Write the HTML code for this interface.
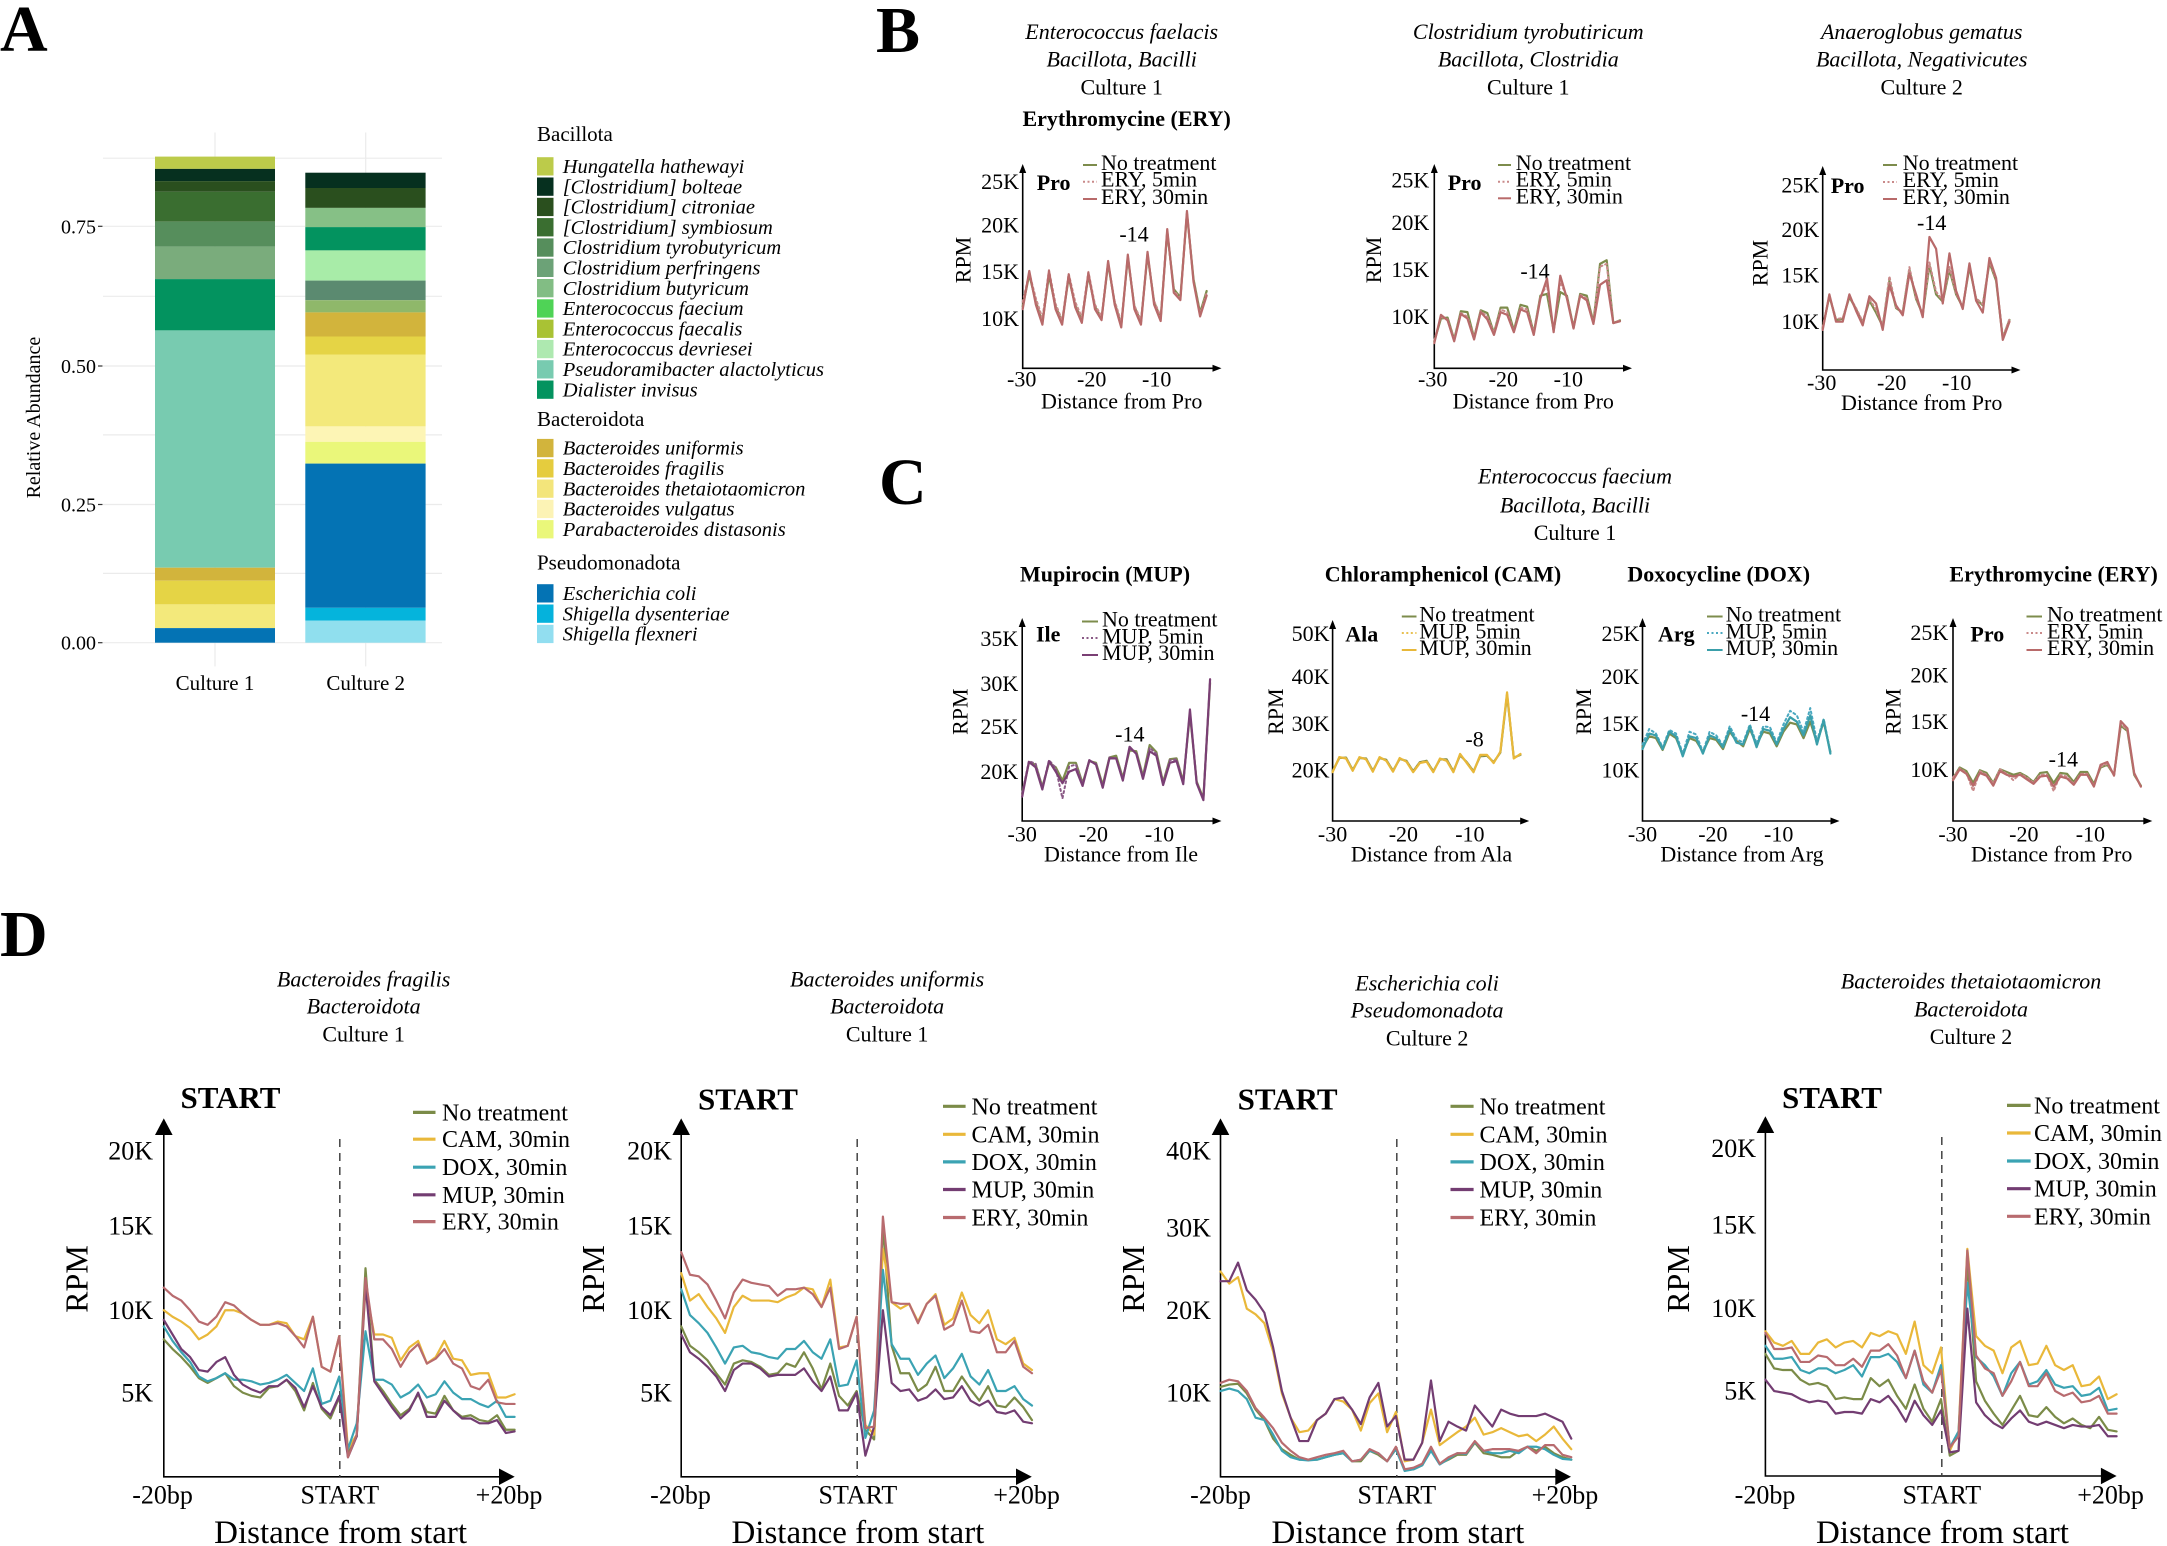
<!DOCTYPE html>
<html><head><meta charset="utf-8"><style>
html,body{margin:0;padding:0;background:#fff}
svg{display:block}
text{font-family:"Liberation Serif","Times New Roman",serif;fill:#000}
.i{font-style:italic}
.b{font-weight:bold}
.s{fill:none;vector-effect:non-scaling-stroke;stroke-linejoin:round;stroke-linecap:round}
.ax{stroke:#000;stroke-width:1.6;fill:none}
.g{stroke:#ebebeb;stroke-width:1.2}
</style></head><body>
<svg width="2167" height="1546" viewBox="0 0 2167 1546" xmlns="http://www.w3.org/2000/svg">
<rect width="2167" height="1546" fill="#fff"/>

<!-- Panel letters -->
<text x="0" y="51" class="b" font-size="66">A</text>
<text x="876" y="52" class="b" font-size="66">B</text>
<text x="879" y="504" class="b" font-size="66">C</text>
<text x="0" y="956" class="b" font-size="66">D</text>

<!-- ================= PANEL A ================= -->
<g>
<line class="g" x1="103" x2="442" y1="158.2" y2="158.2"/>
<line class="g" x1="103" x2="442" y1="226.3" y2="226.3"/>
<line class="g" x1="103" x2="442" y1="296.3" y2="296.3"/>
<line class="g" x1="103" x2="442" y1="366" y2="366"/>
<line class="g" x1="103" x2="442" y1="434.9" y2="434.9"/>
<line class="g" x1="103" x2="442" y1="504.5" y2="504.5"/>
<line class="g" x1="103" x2="442" y1="573.4" y2="573.4"/>
<line class="g" x1="103" x2="442" y1="642.7" y2="642.7"/>
<line class="g" x1="215" x2="215" y1="132.5" y2="666.4"/>
<line class="g" x1="365.7" x2="365.7" y1="132.5" y2="666.4"/>
</g>
<g fill="#4d4d4d" font-size="20">
<text x="96" y="233.3" text-anchor="end" fill="#4d4d4d">0.75</text>
<text x="96" y="373" text-anchor="end" fill="#4d4d4d">0.50</text>
<text x="96" y="511.5" text-anchor="end" fill="#4d4d4d">0.25</text>
<text x="96" y="649.7" text-anchor="end" fill="#4d4d4d">0.00</text>
</g>
<g stroke="#333" stroke-width="1.2">
<line x1="98" x2="102.5" y1="226.3" y2="226.3"/>
<line x1="98" x2="102.5" y1="366" y2="366"/>
<line x1="98" x2="102.5" y1="504.5" y2="504.5"/>
<line x1="98" x2="102.5" y1="642.7" y2="642.7"/>
</g>
<text transform="translate(33,417.6) rotate(-90)" text-anchor="middle" dy="0.35em" font-size="20" fill="#222">Relative Abundance</text>
<text x="215" y="690" text-anchor="middle" font-size="21" fill="#4d4d4d">Culture 1</text>
<text x="365.7" y="690" text-anchor="middle" font-size="21" fill="#4d4d4d">Culture 2</text>

<!-- Bar 1 -->
<g>
<rect x="155" width="120" y="156.6" height="12.3" fill="#bccb4a"/>
<rect x="155" width="120" y="168.9" height="12.2" fill="#06301f"/>
<rect x="155" width="120" y="181.1" height="10.7" fill="#2a4f1e"/>
<rect x="155" width="120" y="191.8" height="29.9" fill="#3a6e30"/>
<rect x="155" width="120" y="221.7" height="24.9" fill="#568e5c"/>
<rect x="155" width="120" y="246.6" height="32.5" fill="#7aac7c"/>
<rect x="155" width="120" y="279.1" height="51.3" fill="#03935f"/>
<rect x="155" width="120" y="330.4" height="237.3" fill="#78cbb0"/>
<rect x="155" width="120" y="567.7" height="13" fill="#d2b43c"/>
<rect x="155" width="120" y="580.7" height="23.7" fill="#e5d445"/>
<rect x="155" width="120" y="604.4" height="23.7" fill="#f3e97b"/>
<rect x="155" width="120" y="628.1" height="14.6" fill="#0473b4"/>
</g>
<!-- Bar 2 -->
<g>
<rect x="305.3" width="120.3" y="172.7" height="15.3" fill="#06301f"/>
<rect x="305.3" width="120.3" y="188" height="19.9" fill="#2a4f1e"/>
<rect x="305.3" width="120.3" y="207.9" height="19.2" fill="#86c086"/>
<rect x="305.3" width="120.3" y="227.1" height="23.3" fill="#03935f"/>
<rect x="305.3" width="120.3" y="250.4" height="30.2" fill="#a8eca8"/>
<rect x="305.3" width="120.3" y="280.6" height="19.6" fill="#5b8a70"/>
<rect x="305.3" width="120.3" y="300.2" height="12.2" fill="#8fb86a"/>
<rect x="305.3" width="120.3" y="312.4" height="24.1" fill="#d2b43c"/>
<rect x="305.3" width="120.3" y="336.5" height="18" fill="#e5d445"/>
<rect x="305.3" width="120.3" y="354.5" height="71.9" fill="#f3e97b"/>
<rect x="305.3" width="120.3" y="426.4" height="15.4" fill="#fdf5b5"/>
<rect x="305.3" width="120.3" y="441.8" height="21.8" fill="#eaf77a"/>
<rect x="305.3" width="120.3" y="463.6" height="144.2" fill="#0473b4"/>
<rect x="305.3" width="120.3" y="607.8" height="12.7" fill="#05b4dc"/>
<rect x="305.3" width="120.3" y="620.5" height="22.2" fill="#90dfee"/>
</g>

<!-- Legend A -->
<text x="537" y="141" font-size="21">Bacillota</text>
<g>
<rect x="537" y="157.2" width="16.5" height="18.3" fill="#bccb4a"/>
<rect x="537" y="177.5" width="16.5" height="18.3" fill="#06301f"/>
<rect x="537" y="197.8" width="16.5" height="18.3" fill="#2a4f1e"/>
<rect x="537" y="218.1" width="16.5" height="18.3" fill="#3a6e30"/>
<rect x="537" y="238.4" width="16.5" height="18.3" fill="#568e5c"/>
<rect x="537" y="258.7" width="16.5" height="18.3" fill="#6ca277"/>
<rect x="537" y="279" width="16.5" height="18.3" fill="#82bd84"/>
<rect x="537" y="299.3" width="16.5" height="18.3" fill="#4fd356"/>
<rect x="537" y="319.6" width="16.5" height="18.3" fill="#a9c234"/>
<rect x="537" y="339.9" width="16.5" height="18.3" fill="#aee9b0"/>
<rect x="537" y="360.2" width="16.5" height="18.3" fill="#78cbb0"/>
<rect x="537" y="380.5" width="16.5" height="18.3" fill="#03935f"/>
</g>
<g class="i" font-size="20.5">
<text x="562.7" y="173" class="i">Hungatella hathewayi</text>
<text x="562.7" y="193.3" class="i">[Clostridium] bolteae</text>
<text x="562.7" y="213.6" class="i">[Clostridium] citroniae</text>
<text x="562.7" y="233.9" class="i">[Clostridium] symbiosum</text>
<text x="562.7" y="254.2" class="i">Clostridium tyrobutyricum</text>
<text x="562.7" y="274.5" class="i">Clostridium perfringens</text>
<text x="562.7" y="294.8" class="i">Clostridium butyricum</text>
<text x="562.7" y="315.1" class="i">Enterococcus faecium</text>
<text x="562.7" y="335.4" class="i">Enterococcus faecalis</text>
<text x="562.7" y="355.7" class="i">Enterococcus devriesei</text>
<text x="562.7" y="376" class="i">Pseudoramibacter alactolyticus</text>
<text x="562.7" y="396.3" class="i">Dialister invisus</text>
</g>
<text x="537" y="426.1" font-size="21">Bacteroidota</text>
<g>
<rect x="537" y="438.9" width="16.5" height="18.3" fill="#d2b43c"/>
<rect x="537" y="459.2" width="16.5" height="18.3" fill="#e5cc3e"/>
<rect x="537" y="479.5" width="16.5" height="18.3" fill="#f3e57b"/>
<rect x="537" y="499.8" width="16.5" height="18.3" fill="#fcf3b5"/>
<rect x="537" y="520.1" width="16.5" height="18.3" fill="#eaf77a"/>
</g>
<g font-size="20.5">
<text x="562.7" y="454.7" class="i">Bacteroides uniformis</text>
<text x="562.7" y="475" class="i">Bacteroides fragilis</text>
<text x="562.7" y="495.3" class="i">Bacteroides thetaiotaomicron</text>
<text x="562.7" y="515.6" class="i">Bacteroides vulgatus</text>
<text x="562.7" y="535.9" class="i">Parabacteroides distasonis</text>
</g>
<text x="537" y="569.7" font-size="21">Pseudomonadota</text>
<g>
<rect x="537" y="584.2" width="16.5" height="18.3" fill="#0473b4"/>
<rect x="537" y="604.5" width="16.5" height="18.3" fill="#05b2dc"/>
<rect x="537" y="624.8" width="16.5" height="18.3" fill="#92def0"/>
</g>
<g font-size="20.5">
<text x="562.7" y="600" class="i">Escherichia coli</text>
<text x="562.7" y="620.3" class="i">Shigella dysenteriae</text>
<text x="562.7" y="640.6" class="i">Shigella flexneri</text>
</g>

<!-- ================= PANEL B ================= -->
<g font-size="22">
<text x="1121.7" y="39" text-anchor="middle" class="i">Enterococcus faelacis</text>
<text x="1121.7" y="66.7" text-anchor="middle" class="i">Bacillota, Bacilli</text>
<text x="1121.7" y="94.3" text-anchor="middle">Culture 1</text>
<text x="1126.7" y="126" text-anchor="middle" class="b">Erythromycine (ERY)</text>
<text x="1528.3" y="39" text-anchor="middle" class="i">Clostridium tyrobutiricum</text>
<text x="1528.3" y="66.7" text-anchor="middle" class="i">Bacillota, Clostridia</text>
<text x="1528.3" y="94.3" text-anchor="middle">Culture 1</text>
<text x="1921.7" y="39" text-anchor="middle" class="i">Anaeroglobus gematus</text>
<text x="1921.7" y="66.7" text-anchor="middle" class="i">Bacillota, Negativicutes</text>
<text x="1921.7" y="94.3" text-anchor="middle">Culture 2</text>
</g>

<!-- B1 -->
<g font-size="22">
<polyline class="ax" points="1022.7,171 1022.7,368.3 1214,368.3"/>
<polygon points="1022.7,164 1019.2,173 1026.2,173"/>
<polygon points="1221.5,368.3 1212.5,364.8 1212.5,371.8"/>
<text x="1019" y="189.2" text-anchor="end">25K</text>
<text x="1019" y="232.5" text-anchor="end">20K</text>
<text x="1019" y="279.2" text-anchor="end">15K</text>
<text x="1019" y="325.8" text-anchor="end">10K</text>
<text x="1021.7" y="386.7" text-anchor="middle">-30</text>
<text x="1091.7" y="386.7" text-anchor="middle">-20</text>
<text x="1156.7" y="386.7" text-anchor="middle">-10</text>
<text x="1121.7" y="408.3" text-anchor="middle">Distance from Pro</text>
<text transform="translate(963,260) rotate(-90)" text-anchor="middle" dy="0.35em">RPM</text>
<text x="1036.7" y="190" class="b">Pro</text>
<text x="1134" y="241.7" text-anchor="middle">-14</text>
<line x1="1083" x2="1097" y1="165" y2="165" stroke="#7d8c4c" stroke-width="2"/>
<line x1="1083" x2="1097" y1="181.7" y2="181.7" stroke="#c98a8a" stroke-width="2" stroke-dasharray="2,2.5"/>
<line x1="1083" x2="1097" y1="199" y2="199" stroke="#b86a6a" stroke-width="2"/>
<text x="1101" y="170">No treatment</text>
<text x="1101" y="186.7">ERY, 5min</text>
<text x="1101" y="204">ERY, 30min</text>
</g>
<g transform="translate(1022.7,409.3) scale(6.57,-9.1)">
<polyline class="s" stroke="#7d8c4c" stroke-width="2.2" points="0,11.3 1,14.8 2,11.8 3,9.6 4,14.7 5,11.3 6,9.6 7,14.5 8,11.4 9,9.8 10,14.7 11,11.3 12,10 13,16 14,11.7 15,9.3 16,16.7 17,11.3 18,9.6 19,17 20,11.8 21,10 22,19.5 23,13.2 24,12.3 25,21.5 26,14.3 27,10.6 28,13"/>
<polyline class="s" stroke="#c98a8a" stroke-width="2" stroke-dasharray="2,3" points="0,11.8 1,15 2,12.2 3,10 4,15.3 5,11.6 6,9.8 7,14.9 8,11.8 9,10.1 10,15.1 11,11.5 12,10.2 13,16.1 14,11.9 15,9.6 16,16.8 17,11.4 18,9.8 19,17.1 20,11.9 21,10.2 22,19.6 23,13 24,12.2 25,21.6 26,14.1 27,10.4 28,12.8"/>
<polyline class="s" stroke="#b86a6a" stroke-width="2.2" points="0,11 1,15.2 2,11.5 3,9.3 4,15.2 5,11 6,9.3 7,14.8 8,11.2 9,9.5 10,15 11,11 12,9.8 13,16.3 14,11.5 15,9 16,17 17,11 18,9.3 19,17.3 20,11.5 21,9.7 22,19.8 23,12.8 24,12 25,21.8 26,14 27,10.2 28,12.5"/>
</g>

<!-- B2 -->
<g font-size="22">
<polyline class="ax" points="1434.3,171 1434.3,368.3 1625,368.3"/>
<polygon points="1434.3,164 1430.8,173 1437.8,173"/>
<polygon points="1632,368.3 1623,364.8 1623,371.8"/>
<text x="1429.3" y="187.5" text-anchor="end">25K</text>
<text x="1429.3" y="230.2" text-anchor="end">20K</text>
<text x="1429.3" y="276.8" text-anchor="end">15K</text>
<text x="1429.3" y="324.2" text-anchor="end">10K</text>
<text x="1432.7" y="386.7" text-anchor="middle">-30</text>
<text x="1503.3" y="386.7" text-anchor="middle">-20</text>
<text x="1568.3" y="386.7" text-anchor="middle">-10</text>
<text x="1533.3" y="408.3" text-anchor="middle">Distance from Pro</text>
<text transform="translate(1373.3,260) rotate(-90)" text-anchor="middle" dy="0.35em">RPM</text>
<text x="1447.7" y="190" class="b">Pro</text>
<text x="1535" y="278.3" text-anchor="middle">-14</text>
<line x1="1498" x2="1511" y1="165" y2="165" stroke="#7d8c4c" stroke-width="2"/>
<line x1="1498" x2="1511" y1="181.7" y2="181.7" stroke="#c98a8a" stroke-width="2" stroke-dasharray="2,2.5"/>
<line x1="1498" x2="1511" y1="198.3" y2="198.3" stroke="#b86a6a" stroke-width="2"/>
<text x="1515.7" y="170">No treatment</text>
<text x="1515.7" y="186.7">ERY, 5min</text>
<text x="1515.7" y="203.3">ERY, 30min</text>
</g>
<g transform="translate(1434.3,407.8) scale(6.63,-9.11)">
<polyline class="s" stroke="#7d8c4c" stroke-width="2.2" points="0,7.3 1,9.8 2,9.9 3,7.5 4,10.6 5,10.5 6,7.7 7,10.7 8,10.4 9,8.2 10,11 11,11 12,8.5 13,11.3 14,11.1 15,8.2 16,12.3 17,12.5 18,8.5 19,12.7 20,12.3 21,8.8 22,12.5 23,12.3 24,9.4 25,15.8 26,16.2 27,9.3 28,9.6"/>
<polyline class="s" stroke="#c98a8a" stroke-width="2" stroke-dasharray="2,3" points="0,7.4 1,10 2,9.7 3,7.5 4,10.4 5,10 6,7.7 7,10.6 8,10 9,8.2 10,10.8 11,10.5 12,8.4 13,11 14,10.8 15,8.2 16,12.2 17,13.5 18,8.4 19,13.8 20,12.2 21,8.8 22,12.4 23,12 24,9.3 25,15.5 26,15.8 27,9.3 28,9.6"/>
<polyline class="s" stroke="#b86a6a" stroke-width="2.2" points="0,7.1 1,10.2 2,9.6 3,7.3 4,10.3 5,9.8 6,7.5 7,10.5 8,9.7 9,8 10,10.5 11,10.2 12,8.3 13,10.8 14,10.5 15,8 16,12 17,14.2 18,8.3 19,14.5 20,12 21,8.7 22,12.3 23,11.8 24,9.2 25,13.5 26,14 27,9.3 28,9.5"/>
</g>

<!-- B3 -->
<g font-size="22">
<polyline class="ax" points="1822.7,173 1822.7,370 2013,370"/>
<polygon points="1822.7,166 1819.2,175 1826.2,175"/>
<polygon points="2020.5,370 2011.5,366.5 2011.5,373.5"/>
<text x="1819.3" y="192.5" text-anchor="end">25K</text>
<text x="1819.3" y="236.8" text-anchor="end">20K</text>
<text x="1819.3" y="282.5" text-anchor="end">15K</text>
<text x="1819.3" y="329.2" text-anchor="end">10K</text>
<text x="1821.7" y="390" text-anchor="middle">-30</text>
<text x="1891.7" y="390" text-anchor="middle">-20</text>
<text x="1956.7" y="390" text-anchor="middle">-10</text>
<text x="1921.7" y="410" text-anchor="middle">Distance from Pro</text>
<text transform="translate(1760,263) rotate(-90)" text-anchor="middle" dy="0.35em">RPM</text>
<text x="1830.7" y="193" class="b">Pro</text>
<text x="1931.7" y="230" text-anchor="middle">-14</text>
<line x1="1883" x2="1897" y1="165" y2="165" stroke="#7d8c4c" stroke-width="2"/>
<line x1="1883" x2="1897" y1="182" y2="182" stroke="#c98a8a" stroke-width="2" stroke-dasharray="2,2.5"/>
<line x1="1883" x2="1897" y1="199" y2="199" stroke="#b86a6a" stroke-width="2"/>
<text x="1902.7" y="170">No treatment</text>
<text x="1902.7" y="187">ERY, 5min</text>
<text x="1902.7" y="204">ERY, 30min</text>
</g>
<g transform="translate(1822.7,412.8) scale(6.67,-9.11)">
<polyline class="s" stroke="#7d8c4c" stroke-width="2.2" points="0,9.3 1,12.8 2,10.2 3,10.3 4,12.7 5,11.4 6,9.9 7,12.3 8,11 9,9.5 10,14.5 11,11.5 12,11 13,15.7 14,12.5 15,10.8 16,16.2 17,13 18,12.2 19,15.7 20,13 21,11.6 22,16 23,12.5 24,11.8 25,16.5 26,14.5 27,8.2 28,10.2"/>
<polyline class="s" stroke="#c98a8a" stroke-width="2" stroke-dasharray="2,3" points="0,9.4 1,12.9 2,10.3 3,10.4 4,12.8 5,11.5 6,10 7,12.5 8,11.3 9,9.6 10,15 11,11.6 12,11 13,16 14,12.6 15,10.9 16,16.5 17,13.3 18,12.3 19,16 20,13.1 21,11.7 22,16.2 23,12.6 24,11.9 25,16.7 26,14.6 27,8.3 28,10.3"/>
<polyline class="s" stroke="#b86a6a" stroke-width="2.2" points="0,9.1 1,13 2,10 3,10 4,13 5,11.2 6,9.6 7,12.8 8,12 9,9.1 10,14 11,11.8 12,10.7 13,15.3 14,13 15,10.5 16,19.3 17,18 18,12 19,17.5 20,13.4 21,11.4 22,16.4 23,12.3 24,11 25,17 26,14.8 27,8 28,10"/>
</g>

<!-- ================= PANEL C ================= -->
<g font-size="22">
<text x="1575" y="483.3" text-anchor="middle" class="i">Enterococcus faecium</text>
<text x="1575" y="512.7" text-anchor="middle" class="i">Bacillota, Bacilli</text>
<text x="1575" y="540" text-anchor="middle">Culture 1</text>
<text x="1105" y="581.7" text-anchor="middle" class="b">Mupirocin (MUP)</text>
<text x="1443" y="581.7" text-anchor="middle" class="b">Chloramphenicol (CAM)</text>
<text x="1718.7" y="581.7" text-anchor="middle" class="b">Doxocycline (DOX)</text>
<text x="2053.6" y="581.7" text-anchor="middle" class="b">Erythromycine (ERY)</text>
</g>

<!-- C1 -->
<g font-size="22">
<polyline class="ax" points="1022.2,625 1022.2,821 1214,821"/>
<polygon points="1022.2,618 1018.7,627 1025.7,627"/>
<polygon points="1221.5,821 1212.5,817.5 1212.5,824.5"/>
<text x="1018.3" y="645.8" text-anchor="end">35K</text>
<text x="1018.3" y="690.8" text-anchor="end">30K</text>
<text x="1018.3" y="734.2" text-anchor="end">25K</text>
<text x="1018.3" y="779.2" text-anchor="end">20K</text>
<text x="1022.2" y="841.7" text-anchor="middle">-30</text>
<text x="1093.4" y="841.7" text-anchor="middle">-20</text>
<text x="1159.5" y="841.7" text-anchor="middle">-10</text>
<text x="1121" y="861.7" text-anchor="middle">Distance from Ile</text>
<text transform="translate(959.8,711.7) rotate(-90)" text-anchor="middle" dy="0.35em">RPM</text>
<text x="1036" y="641.7" class="b">Ile</text>
<text x="1129.8" y="741.7" text-anchor="middle">-14</text>
<line x1="1082" x2="1098" y1="621.5" y2="621.5" stroke="#7d8c4c" stroke-width="2"/>
<line x1="1082" x2="1098" y1="638" y2="638" stroke="#8a5a86" stroke-width="2" stroke-dasharray="2,2.5"/>
<line x1="1082" x2="1098" y1="655" y2="655" stroke="#7a3f74" stroke-width="2"/>
<text x="1102" y="626.7">No treatment</text>
<text x="1102" y="643.3">MUP, 5min</text>
<text x="1102" y="660">MUP, 30min</text>
</g>
<g transform="translate(1022.2,949.5) scale(6.71,-8.89)">
<polyline class="s" stroke="#7d8c4c" stroke-width="2.2" points="0,17.5 1,21 2,20.8 3,18.3 4,21 5,20.5 6,19 7,21 8,21 9,18.7 10,21.2 11,21 12,18.5 13,21.6 14,21.8 15,19.3 16,22.4 17,22.3 18,19.5 19,23 20,22.2 21,18.8 22,21.4 23,21.5 24,18.9 25,26.5 26,18.9 27,17 28,30"/>
<polyline class="s" stroke="#8a5a86" stroke-width="2" stroke-dasharray="2,3" points="0,17.6 1,21.2 2,20.9 3,18.2 4,21.3 5,20.4 6,17 7,20.6 8,20.8 9,18.6 10,21.2 11,20.9 12,18.3 13,21.6 14,21.5 15,19.2 16,22.6 17,22.1 18,19.4 19,22.7 20,22 21,18.7 22,21.3 23,21.4 24,18.8 25,26.7 26,18.8 27,16.9 28,30.2"/>
<polyline class="s" stroke="#7a3f74" stroke-width="2.2" points="0,17.2 1,21.1 2,20.5 3,18 4,21.2 5,20 6,18.7 7,20 8,20.3 9,18.4 10,21.3 11,20.8 12,18.2 13,21.5 14,21.5 15,19 16,22.8 17,22 18,19.2 19,22.3 20,21.8 21,18.5 22,21 23,21.2 24,18.6 25,27 26,18.7 27,16.8 28,30.4"/>
</g>

<!-- C2 -->
<g font-size="22">
<polyline class="ax" points="1332.6,627 1332.6,821 1522,821"/>
<polygon points="1332.6,620 1329.1,629 1336.1,629"/>
<polygon points="1529.2,821 1520.2,817.5 1520.2,824.5"/>
<text x="1329.5" y="640.8" text-anchor="end">50K</text>
<text x="1329.5" y="684.2" text-anchor="end">40K</text>
<text x="1329.5" y="730.8" text-anchor="end">30K</text>
<text x="1329.5" y="777.5" text-anchor="end">20K</text>
<text x="1332.6" y="841.7" text-anchor="middle">-30</text>
<text x="1403.4" y="841.7" text-anchor="middle">-20</text>
<text x="1469.9" y="841.7" text-anchor="middle">-10</text>
<text x="1431.5" y="861.7" text-anchor="middle">Distance from Ala</text>
<text transform="translate(1275.3,711.7) rotate(-90)" text-anchor="middle" dy="0.35em">RPM</text>
<text x="1345.3" y="641.7" class="b">Ala</text>
<text x="1474.6" y="746.7" text-anchor="middle">-8</text>
<line x1="1401.8" x2="1416.5" y1="616.5" y2="616.5" stroke="#7d8c4c" stroke-width="2"/>
<line x1="1401.8" x2="1416.5" y1="633" y2="633" stroke="#e8c050" stroke-width="2" stroke-dasharray="2,2.5"/>
<line x1="1401.8" x2="1416.5" y1="650" y2="650" stroke="#e8b83a" stroke-width="2"/>
<text x="1419.2" y="621.7">No treatment</text>
<text x="1419.2" y="638.3">MUP, 5min</text>
<text x="1419.2" y="655">MUP, 30min</text>
</g>
<g transform="translate(1332.6,861.1) scale(6.71,-4.56)">
<polyline class="s" stroke="#7d8c4c" stroke-width="2.2" points="0,19.7 1,22.6 2,22.7 3,20 4,22.6 5,22.5 6,19.8 7,22.6 8,22.2 9,19.8 10,22.4 11,22 12,19.7 13,21.7 14,22 15,19.7 16,22.3 17,22.3 18,19.7 19,23.2 20,21.7 21,19.7 22,23 23,23.1 24,21.7 25,23.8 26,36.5 27,22.7 28,23.3"/>
<polyline class="s" stroke="#e8c050" stroke-width="2" stroke-dasharray="2,3" points="0,19.6 1,22.7 2,22.6 3,19.9 4,22.7 5,22.4 6,19.7 7,22.7 8,22.1 9,19.7 10,22.5 11,21.9 12,19.6 13,21.6 14,21.9 15,19.6 16,22.4 17,22.1 18,19.6 19,23.4 20,21.6 21,19.6 22,23.2 23,23.2 24,21.6 25,23.9 26,36.8 27,22.6 28,23.4"/>
<polyline class="s" stroke="#e8b83a" stroke-width="2.2" points="0,19.5 1,22.8 2,22.5 3,19.8 4,22.8 5,22.3 6,19.6 7,22.8 8,22 9,19.6 10,22.6 11,21.8 12,19.5 13,21.5 14,21.8 15,19.5 16,22.5 17,22 18,19.5 19,23.5 20,21.5 21,19.5 22,23.3 23,23.3 24,21.5 25,24 26,37 27,22.5 28,23.5"/>
</g>

<!-- C3 -->
<g font-size="22">
<polyline class="ax" points="1642.5,625 1642.5,821 1832,821"/>
<polygon points="1642.5,618 1639,627 1646,627"/>
<polygon points="1839.5,821 1830.5,817.5 1830.5,824.5"/>
<text x="1639.4" y="640.8" text-anchor="end">25K</text>
<text x="1639.4" y="684.2" text-anchor="end">20K</text>
<text x="1639.4" y="730.8" text-anchor="end">15K</text>
<text x="1639.4" y="777.5" text-anchor="end">10K</text>
<text x="1642.5" y="841.7" text-anchor="middle">-30</text>
<text x="1712.9" y="841.7" text-anchor="middle">-20</text>
<text x="1778.7" y="841.7" text-anchor="middle">-10</text>
<text x="1742" y="861.7" text-anchor="middle">Distance from Arg</text>
<text transform="translate(1583.2,711.7) rotate(-90)" text-anchor="middle" dy="0.35em">RPM</text>
<text x="1658" y="641.7" class="b">Arg</text>
<text x="1755.5" y="721" text-anchor="middle">-14</text>
<line x1="1707" x2="1722.6" y1="616.5" y2="616.5" stroke="#7d8c4c" stroke-width="2"/>
<line x1="1707" x2="1722.6" y1="633" y2="633" stroke="#4aa8c0" stroke-width="2" stroke-dasharray="2,2.5"/>
<line x1="1707" x2="1722.6" y1="650" y2="650" stroke="#3a9faa" stroke-width="2"/>
<text x="1725.7" y="621.7">No treatment</text>
<text x="1725.7" y="638.3">MUP, 5min</text>
<text x="1725.7" y="655">MUP, 30min</text>
</g>
<g transform="translate(1642.5,861.1) scale(6.71,-9.11)">
<polyline class="s" stroke="#7d8c4c" stroke-width="2.2" points="0,12.5 1,13.7 2,13.5 3,12.2 4,14 5,13.5 6,11.7 7,13.5 8,13.2 9,12 10,13.5 11,13.3 12,12.3 13,14.2 14,13.2 15,12.6 16,14.5 17,12.8 18,14.2 19,14 20,12.6 21,14.2 22,15.2 23,15 24,13.5 25,15.3 26,13 27,15.3 28,12"/>
<polyline class="s" stroke="#4aa8c0" stroke-width="2" stroke-dasharray="2,3" points="0,12.8 1,14.5 2,14 3,12.5 4,14.4 5,14 6,11.8 7,14.2 8,13.9 9,12 10,14.2 11,13.8 12,12.7 13,14.8 14,13.4 15,13 16,15 17,12.9 18,14.8 19,14.7 20,13 21,15 22,16.5 23,16 24,14.2 25,16.8 26,13.2 27,15.6 28,12"/>
<polyline class="s" stroke="#3a9faa" stroke-width="2.2" points="0,12.3 1,14 2,13.8 3,12.3 4,14.2 5,13.7 6,11.5 7,13.7 8,13.5 9,11.8 10,13.8 11,13.5 12,12.5 13,14.5 14,13 15,12.8 16,14.8 17,12.5 18,14.5 19,14.3 20,12.8 21,14.5 22,15.8 23,15.3 24,13.8 25,16 26,12.8 27,15.5 28,11.8"/>
</g>

<!-- C4 -->
<g font-size="22">
<polyline class="ax" points="1953,625 1953,821 2145,821"/>
<polygon points="1953,618 1949.5,627 1956.5,627"/>
<polygon points="2152.3,821 2143.3,817.5 2143.3,824.5"/>
<text x="1948.3" y="640.2" text-anchor="end">25K</text>
<text x="1948.3" y="682.5" text-anchor="end">20K</text>
<text x="1948.3" y="729.2" text-anchor="end">15K</text>
<text x="1948.3" y="776.8" text-anchor="end">10K</text>
<text x="1953" y="841.7" text-anchor="middle">-30</text>
<text x="2023.8" y="841.7" text-anchor="middle">-20</text>
<text x="2090.4" y="841.7" text-anchor="middle">-10</text>
<text x="2051.7" y="861.7" text-anchor="middle">Distance from Pro</text>
<text transform="translate(1893,711.7) rotate(-90)" text-anchor="middle" dy="0.35em">RPM</text>
<text x="1970.4" y="641.7" class="b">Pro</text>
<text x="2063.3" y="766.7" text-anchor="middle">-14</text>
<line x1="2026.5" x2="2042" y1="616.5" y2="616.5" stroke="#7d8c4c" stroke-width="2"/>
<line x1="2026.5" x2="2042" y1="633" y2="633" stroke="#c98a8a" stroke-width="2" stroke-dasharray="2,2.5"/>
<line x1="2026.5" x2="2042" y1="650" y2="650" stroke="#b86a6a" stroke-width="2"/>
<text x="2047" y="621.7">No treatment</text>
<text x="2047" y="638.3">ERY, 5min</text>
<text x="2047" y="655">ERY, 30min</text>
</g>
<g transform="translate(1953,860.3) scale(6.71,-9.1)">
<polyline class="s" stroke="#7d8c4c" stroke-width="2.2" points="0,9 1,10.2 2,9.8 3,8.5 4,9.9 5,9.6 6,8.5 7,10 8,9.7 9,9.4 10,9.6 11,9.2 12,8.6 13,9.6 14,9.7 15,8.5 16,9.6 17,9.5 18,8.6 19,9.7 20,9.7 21,8.4 22,10.2 23,10.5 24,9.4 25,14.8 26,14.2 27,9.4 28,8.2"/>
<polyline class="s" stroke="#c98a8a" stroke-width="2" stroke-dasharray="2,3" points="0,9.1 1,10.1 2,9.6 3,7.6 4,9.8 5,9.4 6,8.4 7,10 8,9.5 9,8.8 10,9.5 11,9.1 12,8.5 13,9.4 14,9.4 15,7.6 16,9.4 17,9.2 18,8.4 19,9.5 20,9.5 21,8.2 22,10.3 23,10.6 24,9.4 25,15 26,14.3 27,9.5 28,8.1"/>
<polyline class="s" stroke="#b86a6a" stroke-width="2.2" points="0,8.8 1,10 2,9.5 3,8.2 4,9.6 5,9.3 6,8.2 7,9.8 8,9.4 9,9.2 10,9.4 11,8.9 12,8.4 13,9.2 14,9.3 15,8.1 16,9.2 17,9 18,8.3 19,9.4 20,9.4 21,8.1 22,10.5 23,10.8 24,9.3 25,15.3 26,14.5 27,9.6 28,8.1"/>
</g>

<!-- ================= PANEL D ================= -->
<!-- D1 -->
<g font-size="22">
<text x="363.6" y="986.5" text-anchor="middle" class="i">Bacteroides fragilis</text>
<text x="363.6" y="1013.3" text-anchor="middle" class="i">Bacteroidota</text>
<text x="363.6" y="1041.3" text-anchor="middle">Culture 1</text>
</g>
<text x="230.5" y="1108" text-anchor="middle" class="b" font-size="31">START</text>
<polyline class="ax" points="163.8,1132 163.8,1476.8 500,1476.8"/>
<polygon points="163.8,1118.4 155,1135 172.6,1135"/>
<polygon points="514.7,1476.8 499,1468.5 499,1485"/>
<line x1="339.8" x2="339.8" y1="1139" y2="1476.8" stroke="#444" stroke-width="1.5" stroke-dasharray="8,6"/>
<g font-size="26">
<text x="153" y="1159.5" text-anchor="end">20K</text>
<text x="153" y="1234.5" text-anchor="end">15K</text>
<text x="153" y="1319" text-anchor="end">10K</text>
<text x="153" y="1401.4" text-anchor="end">5K</text>
<text x="162.6" y="1503.6" text-anchor="middle">-20bp</text>
<text x="339.8" y="1503.6" text-anchor="middle">START</text>
<text x="509" y="1503.6" text-anchor="middle">+20bp</text>
</g>
<text x="340.6" y="1542.8" text-anchor="middle" font-size="33">Distance from start</text>
<text transform="translate(76.5,1279) rotate(-90)" text-anchor="middle" dy="0.35em" font-size="32">RPM</text>
<g font-size="24">
<line x1="413" x2="435.5" y1="1112.4" y2="1112.4" stroke="#7b8b48" stroke-width="3.2"/>
<line x1="413" x2="435.5" y1="1139.2" y2="1139.2" stroke="#e9b83a" stroke-width="3.2"/>
<line x1="413" x2="435.5" y1="1167.2" y2="1167.2" stroke="#3ba3b3" stroke-width="3.2"/>
<line x1="413" x2="435.5" y1="1194.8" y2="1194.8" stroke="#733d72" stroke-width="3.2"/>
<line x1="413" x2="435.5" y1="1221.6" y2="1221.6" stroke="#b86b6f" stroke-width="3.2"/>
<text x="442" y="1120.4">No treatment</text>
<text x="442" y="1147.2">CAM, 30min</text>
<text x="442" y="1175.2">DOX, 30min</text>
<text x="442" y="1202.8">MUP, 30min</text>
<text x="442" y="1229.6">ERY, 30min</text>
</g>
<g transform="translate(163.8,1475) scale(8.77,-16.15)">
<polyline class="s" stroke="#7b8b48" stroke-width="2.2" points="0,8.4 1,7.8 2,7.3 3,6.7 4,6 5,5.7 6,6 7,6.3 8,5.5 9,5.1 10,4.9 11,4.8 12,5.4 13,5.5 14,5.9 15,5.2 16,4 17,5.7 18,4.1 19,3.5 20,4.8 21,1.4 22,2.4 23,12.8 24,5.9 25,5.2 26,4.4 27,3.7 28,4.1 29,5 30,3.9 31,3.8 32,4.9 33,4 34,3.6 35,3.7 36,3.4 37,3.3 38,3.7 39,2.8 40,2.8"/>
<polyline class="s" stroke="#e9b83a" stroke-width="2.2" points="0,10.2 1,9.8 2,9.5 3,9.1 4,8.4 5,8.7 6,9.2 7,10.2 8,10.2 9,10 10,9.6 11,9.3 12,9.3 13,9.5 14,9.4 15,8.6 16,8.4 17,9.8 18,6.7 19,6.4 20,8.6 21,1.6 22,2.5 23,11.6 24,8.7 25,8.7 26,8.5 27,7.1 28,7.9 29,8.3 30,6.9 31,7.3 32,8.3 33,7.2 34,7.1 35,6.2 36,6.3 37,6.3 38,4.8 39,4.8 40,5"/>
<polyline class="s" stroke="#3ba3b3" stroke-width="2.2" points="0,9.2 1,8.3 2,7.6 3,7 4,6.1 5,5.8 6,6 7,6.3 8,5.9 9,5.9 10,5.8 11,5.6 12,5.7 13,5.9 14,6.2 15,5.7 16,5.2 17,6.6 18,4.4 19,4.6 20,6.1 21,1.6 22,3.2 23,8.9 24,5.9 25,5.9 26,5.6 27,4.8 28,5.1 29,5.6 30,4.8 31,5 32,5.8 33,5.1 34,4.7 35,4.7 36,4.4 37,4.2 38,4.6 39,3.6 40,3.6"/>
<polyline class="s" stroke="#733d72" stroke-width="2.2" points="0,9.6 1,8.7 2,7.8 3,7.3 4,6.5 5,6.4 6,7 7,7.3 8,6.2 9,5.6 10,5.3 11,5.1 12,5.5 13,5.5 14,5.9 15,5.4 16,4.2 17,5.5 18,4.2 19,3.7 20,4.9 21,1.1 22,2.4 23,11.8 24,5.8 25,5 26,4.2 27,3.5 28,4 29,5.1 30,3.6 31,3.6 32,4.6 33,4 34,3.5 35,3.5 36,3.2 37,3.2 38,3.4 39,2.6 40,2.7"/>
<polyline class="s" stroke="#b86b6f" stroke-width="2.2" points="0,11.6 1,11.1 2,10.8 3,10.2 4,9.5 5,9.3 6,9.8 7,10.7 8,10.5 9,10 10,9.6 11,9.3 12,9.3 13,9.4 14,9.2 15,8.6 16,7.9 17,9.8 18,6.7 19,6.4 20,8.6 21,1.1 22,2.5 23,12.2 24,8.4 25,8.4 26,7.8 27,6.7 28,7.6 29,8.1 30,6.9 31,7.2 32,7.8 33,6.9 34,6.6 35,5.5 36,5.3 37,5.9 38,4.5 39,4.4 40,4.4"/>
</g>

<!-- D2 -->
<g font-size="22">
<text x="887.1" y="986.5" text-anchor="middle" class="i">Bacteroides uniformis</text>
<text x="887.1" y="1013.3" text-anchor="middle" class="i">Bacteroidota</text>
<text x="887.1" y="1041.3" text-anchor="middle">Culture 1</text>
</g>
<text x="748" y="1109.3" text-anchor="middle" class="b" font-size="31">START</text>
<polyline class="ax" points="681.2,1132 681.2,1476.8 1017,1476.8"/>
<polygon points="681.2,1118.4 672.4,1135 690,1135"/>
<polygon points="1031.8,1476.8 1016,1468.5 1016,1485"/>
<line x1="857.2" x2="857.2" y1="1139" y2="1476.8" stroke="#444" stroke-width="1.5" stroke-dasharray="8,6"/>
<g font-size="26">
<text x="671.9" y="1159.5" text-anchor="end">20K</text>
<text x="671.9" y="1234.5" text-anchor="end">15K</text>
<text x="671.9" y="1319" text-anchor="end">10K</text>
<text x="671.9" y="1401.4" text-anchor="end">5K</text>
<text x="680.5" y="1503.6" text-anchor="middle">-20bp</text>
<text x="857.9" y="1503.6" text-anchor="middle">START</text>
<text x="1026.6" y="1503.6" text-anchor="middle">+20bp</text>
</g>
<text x="857.9" y="1542.8" text-anchor="middle" font-size="33">Distance from start</text>
<text transform="translate(592.7,1279) rotate(-90)" text-anchor="middle" dy="0.35em" font-size="32">RPM</text>
<g font-size="24">
<line x1="943" x2="965.6" y1="1106.3" y2="1106.3" stroke="#7b8b48" stroke-width="3.2"/>
<line x1="943" x2="965.6" y1="1134.3" y2="1134.3" stroke="#e9b83a" stroke-width="3.2"/>
<line x1="943" x2="965.6" y1="1161.9" y2="1161.9" stroke="#3ba3b3" stroke-width="3.2"/>
<line x1="943" x2="965.6" y1="1189.5" y2="1189.5" stroke="#733d72" stroke-width="3.2"/>
<line x1="943" x2="965.6" y1="1217.5" y2="1217.5" stroke="#b86b6f" stroke-width="3.2"/>
<text x="971.5" y="1114.3">No treatment</text>
<text x="971.5" y="1142.3">CAM, 30min</text>
<text x="971.5" y="1169.9">DOX, 30min</text>
<text x="971.5" y="1197.5">MUP, 30min</text>
<text x="971.5" y="1225.5">ERY, 30min</text>
</g>
<g transform="translate(681.2,1475) scale(8.77,-16.15)">
<polyline class="s" stroke="#7b8b48" stroke-width="2.2" points="0,9.2 1,8 2,7.6 3,7.1 4,6.3 5,5.6 6,6.9 7,7.1 8,7 9,6.7 10,6.2 11,6.3 12,6.9 13,6.7 14,7.6 15,6.6 16,5.3 17,6.9 18,4.9 19,4.3 20,5.2 21,2.8 22,2.2 23,15.5 24,8 25,6.3 26,6.3 27,5.2 28,5.6 29,6.7 30,5.2 31,5.2 32,6.1 33,5.3 34,4.6 35,5.5 36,4.3 37,4.2 38,4.8 39,4.2 40,3.4"/>
<polyline class="s" stroke="#e9b83a" stroke-width="2.2" points="0,12.5 1,10.8 2,11.2 3,10.4 4,9.7 5,8.8 6,10.4 7,11.1 8,10.8 9,10.8 10,10.8 11,10.7 12,11 13,11.2 14,11.6 15,11.5 16,10.4 17,12.1 18,7.9 19,8 20,9.8 21,3.1 22,2.5 23,14 24,10.7 25,10.3 26,10.6 27,9.5 28,10.6 29,11.2 30,9.3 31,9.7 32,11.3 33,9.9 34,9.4 35,10.2 36,8.4 37,8.1 38,8.5 39,6.9 40,6.5"/>
<polyline class="s" stroke="#3ba3b3" stroke-width="2.2" points="0,11.5 1,9.9 2,9.4 3,8.8 4,7.9 5,6.9 6,7.9 7,8 8,7.6 9,7.5 10,7.3 11,7.2 12,7.8 13,7.8 14,8.3 15,7.6 16,7.2 17,8.4 18,5.5 19,5.6 20,7.1 21,2.3 22,4 23,12.7 24,8.1 25,7.2 26,7.2 27,6.2 28,6.9 29,7.4 30,6 31,6.6 32,7.5 33,6.1 34,5.6 35,6.5 36,5.2 37,5.2 38,5.5 39,4.7 40,4.3"/>
<polyline class="s" stroke="#733d72" stroke-width="2.2" points="0,8.7 1,7.6 2,7.2 3,6.7 4,6.1 5,5.2 6,6.5 7,6.9 8,6.9 9,6.6 10,6.1 11,6.2 12,6.2 13,6.2 14,6.6 15,5.8 16,5.2 17,6.1 18,4 19,4 20,5.1 21,1.2 22,3 23,10.2 24,5.7 25,5.2 26,5.3 27,4.6 28,4.8 29,5.3 30,4.7 31,4.8 32,5.5 33,4.6 34,4.3 35,4.6 36,3.9 37,3.8 38,4 39,3.3 40,3.2"/>
<polyline class="s" stroke="#b86b6f" stroke-width="2.2" points="0,13.8 1,12.4 2,12.3 3,11.8 4,10.8 5,9.7 6,11.3 7,12.1 8,11.9 9,11.8 10,11.7 11,11.1 12,11.5 13,11.5 14,11.6 15,11.2 16,10.4 17,11.6 18,7.8 19,8 20,9.8 21,2.9 22,3 23,16 24,10.7 25,10.6 26,10.6 27,9.4 28,10.6 29,11.1 30,9 31,9.3 32,10.8 33,8.9 34,8.8 35,9.3 36,7.6 37,7.6 38,8.3 39,6.7 40,6.3"/>
</g>

<!-- D3 -->
<g font-size="22">
<text x="1427.1" y="990.6" text-anchor="middle" class="i">Escherichia coli</text>
<text x="1427.1" y="1017.4" text-anchor="middle" class="i">Pseudomonadota</text>
<text x="1427.1" y="1045.4" text-anchor="middle">Culture 2</text>
</g>
<text x="1287.6" y="1109.3" text-anchor="middle" class="b" font-size="31">START</text>
<polyline class="ax" points="1220.5,1132 1220.5,1476.8 1556,1476.8"/>
<polygon points="1220.5,1118.4 1211.7,1135 1229.3,1135"/>
<polygon points="1571,1476.8 1555.3,1468.5 1555.3,1485"/>
<line x1="1396.8" x2="1396.8" y1="1139" y2="1476.8" stroke="#444" stroke-width="1.5" stroke-dasharray="8,6"/>
<g font-size="26">
<text x="1210.9" y="1159.5" text-anchor="end">40K</text>
<text x="1210.9" y="1236.5" text-anchor="end">30K</text>
<text x="1210.9" y="1319" text-anchor="end">20K</text>
<text x="1210.9" y="1401.4" text-anchor="end">10K</text>
<text x="1220.5" y="1503.6" text-anchor="middle">-20bp</text>
<text x="1396.8" y="1503.6" text-anchor="middle">START</text>
<text x="1564.9" y="1503.6" text-anchor="middle">+20bp</text>
</g>
<text x="1397.9" y="1542.8" text-anchor="middle" font-size="33">Distance from start</text>
<text transform="translate(1132.7,1279) rotate(-90)" text-anchor="middle" dy="0.35em" font-size="32">RPM</text>
<g font-size="24">
<line x1="1450.5" x2="1473.6" y1="1106.3" y2="1106.3" stroke="#7b8b48" stroke-width="3.2"/>
<line x1="1450.5" x2="1473.6" y1="1134.3" y2="1134.3" stroke="#e9b83a" stroke-width="3.2"/>
<line x1="1450.5" x2="1473.6" y1="1161.9" y2="1161.9" stroke="#3ba3b3" stroke-width="3.2"/>
<line x1="1450.5" x2="1473.6" y1="1189.5" y2="1189.5" stroke="#733d72" stroke-width="3.2"/>
<line x1="1450.5" x2="1473.6" y1="1217.5" y2="1217.5" stroke="#b86b6f" stroke-width="3.2"/>
<text x="1479.5" y="1114.3">No treatment</text>
<text x="1479.5" y="1142.3">CAM, 30min</text>
<text x="1479.5" y="1169.9">DOX, 30min</text>
<text x="1479.5" y="1197.5">MUP, 30min</text>
<text x="1479.5" y="1225.5">ERY, 30min</text>
</g>
<g transform="translate(1220.5,1475) scale(8.77,-8.075)">
<polyline class="s" stroke="#7b8b48" stroke-width="2.2" points="0,10.9 1,11.2 2,11.3 3,10.1 4,8.1 5,6.8 6,4.5 7,3.2 8,2.5 9,1.9 10,1.9 11,1.9 12,2.2 13,2.5 14,2.7 15,1.7 16,1.7 17,3 18,2.5 19,1.7 20,3.2 21,0.7 22,0.7 23,1.2 24,3.2 25,1.4 26,1.9 27,2.5 28,2.5 29,4 30,2.7 31,2.5 32,2.2 33,2.2 34,3 35,3.5 36,3 37,3.5 38,2.7 39,2.2 40,1.9"/>
<polyline class="s" stroke="#e9b83a" stroke-width="2.2" points="0,25.2 1,23.7 2,24.5 3,20.6 4,19.9 5,18.8 6,15.3 7,10.1 8,7.1 9,5.3 10,5.5 11,6.8 12,7.6 13,9.4 14,9.1 15,8.1 16,5.5 17,8.9 18,10.1 19,5.3 20,7.8 21,1.7 22,1.9 23,4 24,8.1 25,3.7 26,4.5 27,5.3 28,6 29,7.1 30,5 31,5.3 32,5.8 33,5.3 34,4.8 35,5 36,4.2 37,5 38,6 39,4.5 40,3.2"/>
<polyline class="s" stroke="#3ba3b3" stroke-width="2.2" points="0,10.4 1,10.7 2,10.4 3,9.4 4,7.1 5,6.8 6,5 7,3 8,2.2 9,1.9 10,1.8 11,1.9 12,2.2 13,2.5 14,2.7 15,1.7 16,1.9 17,3 18,2.7 19,1.7 20,3.2 21,0.5 22,0.7 23,1.2 24,3 25,1.3 26,2 27,2.7 28,2.6 29,4.1 30,3 31,2.7 32,2.7 33,3 34,2.7 35,3.5 36,3.5 37,3.2 38,2.5 39,2 40,1.9"/>
<polyline class="s" stroke="#733d72" stroke-width="2.2" points="0,24 1,24 2,26.3 3,22.9 4,21.7 5,20.1 6,15.8 7,10.4 8,7.1 9,4.2 10,4.2 11,6.8 12,7.6 13,9.4 14,9.6 15,8.1 16,6.3 17,9.6 18,11.4 19,6 20,7.3 21,1.9 22,1.9 23,4 24,11.7 25,4.2 26,6.6 27,6 28,5.5 29,8.6 30,7.3 31,6 32,8.1 33,7.6 34,7.3 35,7.3 36,7.3 37,7.6 38,7.1 39,6.6 40,4.5"/>
<polyline class="s" stroke="#b86b6f" stroke-width="2.2" points="0,11.4 1,11.8 2,11.6 3,10.4 4,8.3 5,7.1 6,5.8 7,4 8,3 9,2.2 10,1.9 11,2.2 12,2.5 13,2.7 14,3 15,1.7 16,1.9 17,3.2 18,2.7 19,1.7 20,3.5 21,0.7 22,0.9 23,1.4 24,3.5 25,1.4 26,2.2 27,2.7 28,2.7 29,4.2 30,3 31,3.2 32,3.2 33,3.2 34,3 35,3.5 36,2.7 37,3.7 38,3.7 39,2.5 40,2.2"/>
</g>

<!-- D4 -->
<g font-size="22">
<text x="1971" y="988.6" text-anchor="middle" class="i">Bacteroides thetaiotaomicron</text>
<text x="1971" y="1016.6" text-anchor="middle" class="i">Bacteroidota</text>
<text x="1971" y="1044.2" text-anchor="middle">Culture 2</text>
</g>
<text x="1832" y="1108" text-anchor="middle" class="b" font-size="31">START</text>
<polyline class="ax" points="1765.4,1130 1765.4,1476 2102,1476"/>
<polygon points="1765.4,1116.3 1756.6,1133 1774.2,1133"/>
<polygon points="2116.6,1476 2100.9,1467.7 2100.9,1484.3"/>
<line x1="1941.8" x2="1941.8" y1="1137" y2="1476" stroke="#444" stroke-width="1.5" stroke-dasharray="8,6"/>
<g font-size="26">
<text x="1756" y="1157" text-anchor="end">20K</text>
<text x="1756" y="1233.3" text-anchor="end">15K</text>
<text x="1756" y="1316.9" text-anchor="end">10K</text>
<text x="1756" y="1399.3" text-anchor="end">5K</text>
<text x="1765" y="1503.6" text-anchor="middle">-20bp</text>
<text x="1941.8" y="1503.6" text-anchor="middle">START</text>
<text x="2110.6" y="1503.6" text-anchor="middle">+20bp</text>
</g>
<text x="1942.5" y="1542.8" text-anchor="middle" font-size="33">Distance from start</text>
<text transform="translate(1677.6,1279) rotate(-90)" text-anchor="middle" dy="0.35em" font-size="32">RPM</text>
<g font-size="24">
<line x1="2007" x2="2030.6" y1="1105.4" y2="1105.4" stroke="#7b8b48" stroke-width="3.2"/>
<line x1="2007" x2="2030.6" y1="1133" y2="1133" stroke="#e9b83a" stroke-width="3.2"/>
<line x1="2007" x2="2030.6" y1="1161" y2="1161" stroke="#3ba3b3" stroke-width="3.2"/>
<line x1="2007" x2="2030.6" y1="1188.7" y2="1188.7" stroke="#733d72" stroke-width="3.2"/>
<line x1="2007" x2="2030.6" y1="1216.3" y2="1216.3" stroke="#b86b6f" stroke-width="3.2"/>
<text x="2034" y="1113.4">No treatment</text>
<text x="2034" y="1141">CAM, 30min</text>
<text x="2034" y="1169">DOX, 30min</text>
<text x="2034" y="1196.7">MUP, 30min</text>
<text x="2034" y="1224.3">ERY, 30min</text>
</g>
<g transform="translate(1765.4,1475) scale(8.78,-16.15)">
<polyline class="s" stroke="#7b8b48" stroke-width="2.2" points="0,7.5 1,6.6 2,6.5 3,6.5 4,5.9 5,5.6 6,5.7 7,5.5 8,4.7 9,4.8 10,4.7 11,4.7 12,6 13,5.5 14,5.9 15,4.9 16,4.1 17,5.6 18,4.1 19,3.3 20,4.7 21,1.2 22,1.5 23,13.2 24,5.8 25,4.6 26,3.8 27,3.1 28,4 29,4.9 30,3.7 31,3.6 32,4.2 33,3.6 34,3.2 35,3.5 36,3.1 37,2.9 38,3.6 39,2.8 40,2.7"/>
<polyline class="s" stroke="#e9b83a" stroke-width="2.2" points="0,8.9 1,8.2 2,8 3,8.3 4,7.5 5,7.5 6,8.2 7,8.4 8,7.9 9,8.2 10,8.3 11,7.9 12,8.8 13,8.6 14,8.9 15,8.7 16,7.5 17,9.5 18,6.8 19,6.3 20,7.9 21,1.5 22,2.7 23,14 24,8.6 25,8 26,7.7 27,6.3 28,7.9 29,8.3 30,6.8 31,6.9 32,8 33,6.8 34,6.5 35,6.8 36,5.5 37,5.6 38,6.1 39,4.7 40,5"/>
<polyline class="s" stroke="#3ba3b3" stroke-width="2.2" points="0,8 1,7.2 2,7.2 3,7.3 4,6.5 5,6.3 6,6.6 7,6.6 8,6.3 9,6.5 10,6.8 11,6.1 12,7.3 13,7.3 14,7.5 15,7 16,6 17,7.7 18,5.6 19,5.1 20,6.8 21,1.7 22,2.7 23,11.9 24,7.3 25,6.8 26,6.1 27,4.9 28,6.3 29,7 30,5.6 31,5.8 32,6.5 33,5.6 34,5.4 35,5.5 36,4.9 37,5 38,5.4 39,4 40,4.1"/>
<polyline class="s" stroke="#733d72" stroke-width="2.2" points="0,5.9 1,5.2 2,5.1 3,5 4,4.7 5,4.5 6,4.6 7,4.5 8,3.8 9,3.9 10,3.9 11,3.8 12,4.7 13,4.5 14,4.9 15,4.2 16,3.3 17,4.6 18,3.7 19,3.1 20,4 21,1.4 22,1.5 23,10.3 24,4.5 25,3.7 26,3.2 27,2.9 28,3.5 29,4 30,3.3 31,3.1 32,3.3 33,3.1 34,2.9 35,3.1 36,3 37,3 38,3.1 39,2.4 40,2.4"/>
<polyline class="s" stroke="#b86b6f" stroke-width="2.2" points="0,8.8 1,7.8 2,7.8 3,7.9 4,7 5,7 6,7.4 7,7.3 8,6.8 9,6.8 10,7.2 11,6.7 12,7.7 13,7.7 14,8.1 15,7.4 16,6 17,7.7 18,5.8 19,5.1 20,6.5 21,1.7 22,2.4 23,13.9 24,7.4 25,6.6 26,6.3 27,4.9 28,5.8 29,7 30,5.5 31,5.5 32,6.3 33,5.2 34,4.9 35,5.1 36,4.5 37,4.6 38,4.9 39,3.8 40,3.8"/>
</g>
</svg>
</body></html>
